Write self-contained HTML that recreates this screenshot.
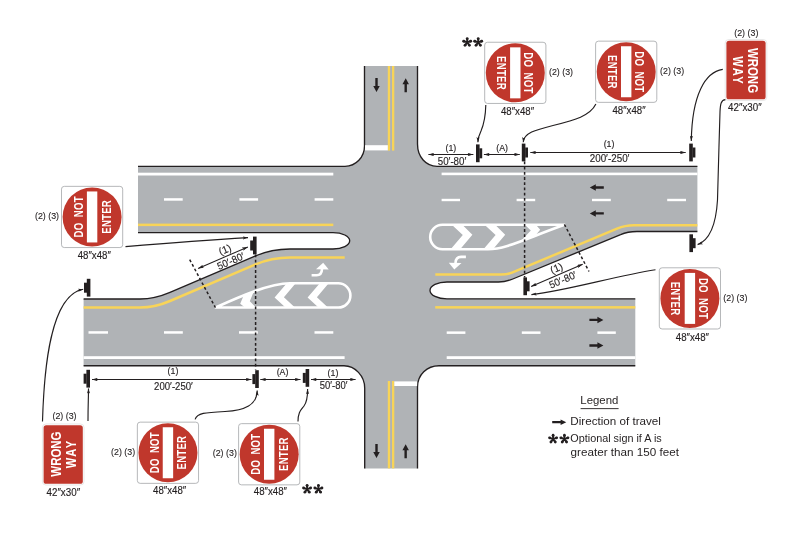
<!DOCTYPE html>
<html><head><meta charset="utf-8"><style>
html,body{margin:0;padding:0;background:#fff;}
svg{display:block;will-change:transform;}
text{font-family:"Liberation Sans",sans-serif;}
</style></head><body>
<svg width="800" height="534" viewBox="0 0 800 534">
<defs>
  <g id="dne">
    <rect x="-30.6" y="-30.6" width="61.2" height="61.2" rx="2.8" fill="#fff" stroke="#a9abae" stroke-width="0.85"/>
    <circle r="29.5" fill="#c0372c"/>
    <rect x="-25.5" y="-5.2" width="51" height="10.4" fill="#fff"/>
    <text transform="scale(0.74,1)" x="0" y="-8.8" font-size="13" font-weight="bold" fill="#fff" text-anchor="middle" textLength="55.4" lengthAdjust="spacing" word-spacing="3">DO NOT</text>
    <text transform="scale(0.74,1)" x="0" y="18.5" font-size="13" font-weight="bold" fill="#fff" text-anchor="middle" textLength="45.3" lengthAdjust="spacing">ENTER</text>
  </g>
  <g id="ww">
    <rect x="-30.5" y="-20.8" width="61" height="41.6" rx="3.5" fill="#fff" stroke="#d8d8d8" stroke-width="0.6"/>
    <rect x="-29.3" y="-19.6" width="58.6" height="39.2" rx="2.6" fill="#c0372c"/>
    <text transform="scale(0.76,1)" x="0.6" y="-1.9" font-size="15.2" font-weight="bold" fill="#fff" text-anchor="middle" textLength="59.5" lengthAdjust="spacing">WRONG</text>
    <text transform="scale(0.76,1)" x="0" y="12.9" font-size="14.6" font-weight="bold" fill="#fff" text-anchor="middle" textLength="36" lengthAdjust="spacing">WAY</text>
  </g>
  <g id="postR" fill="#231f20">
    <rect x="0" y="0" width="3.6" height="17.8"/>
    <rect x="3.4" y="3.9" width="2.8" height="10"/>
  </g>
  <g id="postL" fill="#231f20">
    <rect x="2.8" y="0" width="3.6" height="17.8"/>
    <rect x="0" y="3.9" width="3" height="10"/>
  </g>
  <marker id="ah" viewBox="0 0 10 6" refX="10" refY="3" markerWidth="6" markerHeight="3.5" markerUnits="userSpaceOnUse" orient="auto-start-reverse">
    <path d="M0,0 L10,3 L0,6 L2.2,3 Z" fill="#231f20"/>
  </marker>
  <marker id="ah2" viewBox="0 0 10 6" refX="10" refY="3" markerWidth="5.2" markerHeight="3.6" markerUnits="userSpaceOnUse" orient="auto">
    <path d="M0,0 L10,3 L0,6 L2,3 Z" fill="#231f20"/>
  </marker>
  <path id="arrR" d="M0,-1.2 H8 V-3.25 L14,0 L8,3.25 V1.2 H0 Z" fill="#231f20"/>
  <clipPath id="isR"><path d="M442.4,224.8 H564.4 C520,241 505,249.2 488,249.2 H442.4 A12.2,12.2 0 0 1 442.4,224.8 Z"/></clipPath>
  <clipPath id="isL"><path d="M338.3,283.3 H290 C270,283.3 240,296.5 215.6,307.5 H338.3 A12.1,12.1 0 0 0 338.3,283.3 Z"/></clipPath>
</defs>
<path fill="#b0b3b6" d="M138,166.3 H345 C356,166.3 364.5,157 364.5,146 V66 H417.5 V144 C417.5,157 426,166.3 437,166.3 H697.4 V231.5 H637 Q627.6,231.5 620.6,234.6 L512.8,279 Q505.6,282 498.5,282 H447 A17,8.4 0 0 0 447,298.8 H635.3 V365.7 H439 C427,365.7 417.5,375 417.5,387 V468.4 H364.7 V388 C364.7,376 355,365.7 344,365.7 H83.6 V299 H140 Q154.6,299 170,292.4 L255,256.1 Q271.7,249 290,249 H333 A16.7,8.2 0 0 0 333,232.6 H138 Z"/>
<g fill="none" stroke="#231f20" stroke-width="1.35">
  <path d="M138,166.3 H345 C356,166.3 364.5,157 364.5,146 V66"/>
  <path d="M417.5,66 V144 C417.5,157 426,166.3 437,166.3 H697.4"/>
  <path d="M697.4,231.5 H637 Q627.6,231.5 620.6,234.6 L512.8,279 Q505.6,282 498.5,282 H447 A17,8.4 0 0 0 447,298.8 H635.3"/>
  <path d="M635.3,365.7 H439 C427,365.7 417.5,375 417.5,387 V468.4"/>
  <path d="M364.7,468.4 V388 C364.7,376 355,365.7 344,365.7 H83.6"/>
  <path d="M83.6,299 H140 Q154.6,299 170,292.4 L255,256.1 Q271.7,249 290,249 H333 A16.7,8.2 0 0 0 333,232.6 H138"/>
</g>
<g fill="#f8d458">
  <rect x="387.8" y="66" width="2.3" height="84.6"/>
  <rect x="392" y="66" width="2.3" height="84.6"/>
  <rect x="387.8" y="381" width="2.3" height="87.4"/>
  <rect x="392" y="381" width="2.3" height="87.4"/>
</g>
<rect x="365" y="145.2" width="22.8" height="5.2" fill="#fff"/>
<rect x="394.3" y="381.4" width="22.8" height="4.6" fill="#fff"/>
<rect x="138" y="172.7" width="195.3" height="2.8" fill="#fff"/>
<g fill="#fff">
  <rect x="164" y="198.2" width="18.7" height="2.5"/>
  <rect x="239.4" y="198.2" width="18.7" height="2.5"/>
  <rect x="314.6" y="198.2" width="18.7" height="2.5"/>
</g>
<rect x="138" y="223.6" width="195.3" height="2.5" fill="#f8d458"/>
<path d="M83.6,307.6 H140 Q154.6,307.6 170,301 L255,264.7 Q271.7,257.6 290,257.6 H344.7" fill="none" stroke="#f8d458" stroke-width="2.5"/>
<g fill="#fff">
  <rect x="88.5" y="331.2" width="19.5" height="2.5"/>
  <rect x="164" y="331.2" width="18.8" height="2.5"/>
  <rect x="239" y="331.2" width="18.8" height="2.5"/>
  <rect x="314.5" y="331.2" width="18.8" height="2.5"/>
</g>
<rect x="83.6" y="356.2" width="261" height="2.8" fill="#fff"/>
<rect x="441.6" y="172.6" width="255.8" height="2.6" fill="#fff"/>
<g fill="#fff">
  <rect x="441.6" y="198.8" width="18.4" height="2.4"/>
  <rect x="516.6" y="198.8" width="18.6" height="2.4"/>
  <rect x="592" y="198.8" width="18.8" height="2.4"/>
  <rect x="667.2" y="198.8" width="18.8" height="2.4"/>
</g>
<path d="M697.4,225.2 H634 Q625,225.2 617,228.6 L512,272.7 Q507.4,274.6 501,274.6 H435.3" fill="none" stroke="#f8d458" stroke-width="2.5"/>
<rect x="435.2" y="306.1" width="200.1" height="2.5" fill="#f8d458"/>
<g fill="#fff">
  <rect x="446.7" y="331.4" width="18.7" height="2.5"/>
  <rect x="521.8" y="331.4" width="18.7" height="2.5"/>
  <rect x="597.4" y="331.4" width="18.4" height="2.5"/>
</g>
<rect x="446.7" y="356.2" width="188.6" height="2.8" fill="#fff"/>
<use href="#arrR" transform="translate(603.8,187.5) rotate(180)"/>
<use href="#arrR" transform="translate(603.8,213.4) rotate(180)"/>
<use href="#arrR" transform="translate(589.4,319.9)"/>
<use href="#arrR" transform="translate(589.4,345.5)"/>
<use href="#arrR" transform="translate(376.5,78) rotate(90)"/>
<use href="#arrR" transform="translate(405.7,92.2) rotate(-90)"/>
<use href="#arrR" transform="translate(376.5,444.1) rotate(90)"/>
<use href="#arrR" transform="translate(405.65,458.2) rotate(-90)"/>
<g fill="#fff" clip-path="url(#isR)"><path d="M448.80,222.00 L459.50,222.00 L472.40,234.70 L457.85,252.00 L448.30,252.00 L462.80,235.00 Z"/><path d="M481.60,222.00 L492.30,222.00 L505.20,234.70 L490.65,252.00 L481.10,252.00 L495.60,235.00 Z"/><path d="M522,222 L533.5,222 L540.2,229.8 L530,242 L520,242 L530.8,230.4 Z"/></g>
<g fill="#fff" clip-path="url(#isL)"><path d="M322.60,280.00 L331.40,280.00 L316.90,297.20 L331.70,311.00 L322.30,311.00 L307.60,297.40 Z"/><path d="M289.60,280.00 L298.40,280.00 L283.90,297.20 L298.70,311.00 L289.30,311.00 L274.60,297.40 Z"/><path d="M248.1,285 L256.5,285 L249.8,301.2 L259.6,311 L249.3,311 L240.2,303.7 Z"/></g>
<g fill="none" stroke="#fff" stroke-width="2.6" stroke-linejoin="round">
  <path d="M442.4,224.8 H564.4 C520,241 505,249.2 488,249.2 H442.4 A12.2,12.2 0 0 1 442.4,224.8 Z"/>
  <path d="M338.3,283.3 H290 C270,283.3 240,296.5 215.6,307.5 H338.3 A12.1,12.1 0 0 0 338.3,283.3 Z"/>
</g>
<path d="M311.6,275.3 H316.5 Q321.8,275.3 322,269" fill="none" stroke="#fff" stroke-width="2.6"/><path d="M316,269.2 L323.2,262.8 L328.7,269.4 Z" fill="#fff"/>
<g transform="rotate(180,388.75,266.1)"><path d="M311.6,275.3 H316.5 Q321.8,275.3 322,269" fill="none" stroke="#fff" stroke-width="2.6"/><path d="M316,269.2 L323.2,262.8 L328.7,269.4 Z" fill="#fff"/></g>
<use href="#postR" x="476" y="144.4"/>
<use href="#postR" x="521.8" y="143.6"/>
<use href="#postR" x="689.2" y="143.6"/>
<use href="#postR" x="689.4" y="234.3"/>
<use href="#postR" x="523.4" y="277.4"/>
<use href="#postL" x="250.2" y="236.6"/>
<use href="#postL" x="84" y="278.8"/>
<use href="#postL" x="83.6" y="369.8"/>
<use href="#postL" x="252.4" y="370.2"/>
<use href="#postL" x="302.8" y="369"/>
<g fill="none" stroke="#231f20" stroke-width="1.5" stroke-dasharray="2.8,2.4">
  <path d="M524.6,161.5 V277.4"/>
  <path d="M255.6,254.5 V369.5"/>
  <path d="M564.4,224.4 L589,271.5"/>
  <path d="M189.7,259.6 L215.4,307.6"/>
</g>
<g fill="none" stroke="#231f20" stroke-width="1.05" marker-start="url(#ah)" marker-end="url(#ah)">
  <path d="M428.4,154.5 H473.4"/>
  <path d="M483.9,154.5 H519.8"/>
  <path d="M92,379.5 H251.5"/>
  <path d="M260.3,379.5 H300.5"/>
  <path d="M311,379.5 H355.6"/>
  <path d="M531.1,286.5 L582.7,264.2"/>
  <path d="M198.1,268.5 L247.9,246.9"/>
</g>
<path d="M530.3,152.5 H685.7" fill="none" stroke="#231f20" stroke-width="1.05" marker-start="url(#ah)" marker-end="url(#ah)"/>
<g fill="none" stroke="#231f20" stroke-width="1.15" marker-end="url(#ah2)">
  <path d="M485.8,105 C485.5,118 484,124 481,131 C479,135 478,138 477.9,142.3"/>
  <path d="M595.9,104.1 C590,116 575,120 553,125.5 C535,130 524,133 523.2,142.3"/>
  <path d="M722.8,69.4 C705,72 692,95 691.3,141"/>
  <path d="M725.5,99.6 C721,100 720.3,104 720,112 C719,140 718,190 717.5,200 C716,225 710,240 697.6,244.6"/>
  <path d="M655.5,269.8 C615,276 570,290 531.4,294.6"/>
  <path d="M125.5,246.6 C170,243 210,240 248,237.6"/>
  <path d="M42.5,421.5 C44,370 50,295 83.2,289.3"/>
  <path d="M88,421 C88,405 88.5,398 88.5,388.4"/>
  <path d="M195.1,419.4 C197,413 205,412.5 225,411.5 C245,410.5 257,405 257.2,390.5"/>
  <path d="M298,421.6 C298,412 301,410 304,406 C307,402 307.6,398 307.6,389"/>
</g>
<g font-size="10.3" fill="#231f20" stroke="#231f20" stroke-width="0.15" text-anchor="middle">
<text x="450.85" y="151.2" font-size="8.8">(1)</text>
<text x="452" y="165" textLength="28.5" lengthAdjust="spacingAndGlyphs">50′-80′</text>
<text x="502.1" y="151.2" font-size="8.8">(A)</text>
<text x="609.05" y="147.1" font-size="8.8">(1)</text>
<text x="609.6" y="162.3" textLength="39.7" lengthAdjust="spacingAndGlyphs">200′-250′</text>
<text x="173" y="374.3" font-size="8.8">(1)</text>
<text x="173.5" y="389.5" textLength="38.8" lengthAdjust="spacingAndGlyphs">200′-250′</text>
<text x="282.5" y="374.7" font-size="8.8">(A)</text>
<text x="333" y="376.2" font-size="8.8">(1)</text>
<text x="333.6" y="388.6" textLength="27.7" lengthAdjust="spacingAndGlyphs">50′-80′</text>
<text transform="translate(226.3,252.8) rotate(-23.3)">(1)</text>
<text transform="translate(232.1,264.3) rotate(-23.3)" textLength="28.5" lengthAdjust="spacingAndGlyphs">50′-80′</text>
<text transform="translate(557.8,271.4) rotate(-23.4)">(1)</text>
<text transform="translate(564.2,283.1) rotate(-23.4)" textLength="28.5" lengthAdjust="spacingAndGlyphs">50′-80′</text>
</g>
<use href="#dne" transform="translate(515.3,72.85) rotate(90)"/>
<use href="#dne" transform="translate(626.2,71.75) rotate(90)"/>
<use href="#ww" transform="translate(746,70.05) rotate(90)"/>
<use href="#dne" transform="translate(92.1,216.95) rotate(-90)"/>
<use href="#dne" transform="translate(689.9,298.4) rotate(90)"/>
<use href="#ww" transform="translate(63.2,454.5) rotate(-90)"/>
<use href="#dne" transform="translate(167.95,452.75) rotate(-90)"/>
<use href="#dne" transform="translate(269.2,454.25) rotate(-90)"/>
<g font-size="9.6" fill="#231f20" stroke="#231f20" stroke-width="0.12" text-anchor="middle">
<text x="561" y="75.4" textLength="24.1" lengthAdjust="spacingAndGlyphs">(2) (3)</text>
<text x="672.1" y="74.1" textLength="24.1" lengthAdjust="spacingAndGlyphs">(2) (3)</text>
<text x="746.3" y="36.1" textLength="24.1" lengthAdjust="spacingAndGlyphs">(2) (3)</text>
<text x="47" y="218.7" textLength="24.1" lengthAdjust="spacingAndGlyphs">(2) (3)</text>
<text x="735.4" y="300.5" textLength="24.1" lengthAdjust="spacingAndGlyphs">(2) (3)</text>
<text x="64.5" y="419.1" textLength="24.1" lengthAdjust="spacingAndGlyphs">(2) (3)</text>
<text x="123.1" y="455.2" textLength="24.1" lengthAdjust="spacingAndGlyphs">(2) (3)</text>
<text x="224.8" y="455.8" textLength="24.1" lengthAdjust="spacingAndGlyphs">(2) (3)</text>
</g>
<g font-size="10" fill="#231f20" stroke="#231f20" stroke-width="0.15" text-anchor="middle">
<text x="517.5" y="115" textLength="33.2" lengthAdjust="spacingAndGlyphs">48″x48″</text>
<text x="629" y="114.2" textLength="33.2" lengthAdjust="spacingAndGlyphs">48″x48″</text>
<text x="692.4" y="340.6" textLength="33.2" lengthAdjust="spacingAndGlyphs">48″x48″</text>
<text x="94.3" y="258.6" textLength="33.2" lengthAdjust="spacingAndGlyphs">48″x48″</text>
<text x="169.6" y="493.8" textLength="33.2" lengthAdjust="spacingAndGlyphs">48″x48″</text>
<text x="270.4" y="495.3" textLength="33.2" lengthAdjust="spacingAndGlyphs">48″x48″</text>
<text x="744.9" y="110.7" textLength="33.6" lengthAdjust="spacingAndGlyphs">42″x30″</text>
<text x="63.3" y="496.1" textLength="33.6" lengthAdjust="spacingAndGlyphs">42″x30″</text>
</g>
<g fill="#231f20"><path d="M467.85,42.30 L468.55,38.50 L465.85,38.50 L466.55,42.30 Z M467.40,42.92 L471.23,42.41 L470.40,39.84 L467.00,41.68 Z M466.67,42.68 L468.34,46.17 L470.53,44.58 L467.73,41.92 Z M466.67,41.92 L463.87,44.58 L466.06,46.17 L467.73,42.68 Z M467.40,41.68 L464.00,39.84 L463.17,42.41 L467.00,42.92 Z "/><circle cx="467.20" cy="38.50" r="1.35"/><circle cx="470.81" cy="41.13" r="1.35"/><circle cx="469.43" cy="45.37" r="1.35"/><circle cx="464.97" cy="45.37" r="1.35"/><circle cx="463.59" cy="41.13" r="1.35"/><circle cx="467.2" cy="42.3" r="1.1"/></g>
<g fill="#231f20"><path d="M478.85,42.30 L479.55,38.50 L476.85,38.50 L477.55,42.30 Z M478.40,42.92 L482.23,42.41 L481.40,39.84 L478.00,41.68 Z M477.67,42.68 L479.34,46.17 L481.53,44.58 L478.73,41.92 Z M477.67,41.92 L474.87,44.58 L477.06,46.17 L478.73,42.68 Z M478.40,41.68 L475.00,39.84 L474.17,42.41 L478.00,42.92 Z "/><circle cx="478.20" cy="38.50" r="1.35"/><circle cx="481.81" cy="41.13" r="1.35"/><circle cx="480.43" cy="45.37" r="1.35"/><circle cx="475.97" cy="45.37" r="1.35"/><circle cx="474.59" cy="41.13" r="1.35"/><circle cx="478.2" cy="42.3" r="1.1"/></g>
<g fill="#231f20"><path d="M307.75,489.10 L308.45,485.30 L305.75,485.30 L306.45,489.10 Z M307.30,489.72 L311.13,489.21 L310.30,486.64 L306.90,488.48 Z M306.57,489.48 L308.24,492.97 L310.43,491.38 L307.63,488.72 Z M306.57,488.72 L303.77,491.38 L305.96,492.97 L307.63,489.48 Z M307.30,488.48 L303.90,486.64 L303.07,489.21 L306.90,489.72 Z "/><circle cx="307.10" cy="485.30" r="1.35"/><circle cx="310.71" cy="487.93" r="1.35"/><circle cx="309.33" cy="492.17" r="1.35"/><circle cx="304.87" cy="492.17" r="1.35"/><circle cx="303.49" cy="487.93" r="1.35"/><circle cx="307.1" cy="489.1" r="1.1"/></g>
<g fill="#231f20"><path d="M319.05,489.10 L319.75,485.30 L317.05,485.30 L317.75,489.10 Z M318.60,489.72 L322.43,489.21 L321.60,486.64 L318.20,488.48 Z M317.87,489.48 L319.54,492.97 L321.73,491.38 L318.93,488.72 Z M317.87,488.72 L315.07,491.38 L317.26,492.97 L318.93,489.48 Z M318.60,488.48 L315.20,486.64 L314.37,489.21 L318.20,489.72 Z "/><circle cx="318.40" cy="485.30" r="1.35"/><circle cx="322.01" cy="487.93" r="1.35"/><circle cx="320.63" cy="492.17" r="1.35"/><circle cx="316.17" cy="492.17" r="1.35"/><circle cx="314.79" cy="487.93" r="1.35"/><circle cx="318.4" cy="489.1" r="1.1"/></g>
<g fill="#231f20"><path d="M553.75,439.00 L554.45,435.20 L551.75,435.20 L552.45,439.00 Z M553.30,439.62 L557.13,439.11 L556.30,436.54 L552.90,438.38 Z M552.57,439.38 L554.24,442.87 L556.43,441.28 L553.63,438.62 Z M552.57,438.62 L549.77,441.28 L551.96,442.87 L553.63,439.38 Z M553.30,438.38 L549.90,436.54 L549.07,439.11 L552.90,439.62 Z "/><circle cx="553.10" cy="435.20" r="1.35"/><circle cx="556.71" cy="437.83" r="1.35"/><circle cx="555.33" cy="442.07" r="1.35"/><circle cx="550.87" cy="442.07" r="1.35"/><circle cx="549.49" cy="437.83" r="1.35"/><circle cx="553.1" cy="439" r="1.1"/></g>
<g fill="#231f20"><path d="M565.05,439.00 L565.75,435.20 L563.05,435.20 L563.75,439.00 Z M564.60,439.62 L568.43,439.11 L567.60,436.54 L564.20,438.38 Z M563.87,439.38 L565.54,442.87 L567.73,441.28 L564.93,438.62 Z M563.87,438.62 L561.07,441.28 L563.26,442.87 L564.93,439.38 Z M564.60,438.38 L561.20,436.54 L560.37,439.11 L564.20,439.62 Z "/><circle cx="564.40" cy="435.20" r="1.35"/><circle cx="568.01" cy="437.83" r="1.35"/><circle cx="566.63" cy="442.07" r="1.35"/><circle cx="562.17" cy="442.07" r="1.35"/><circle cx="560.79" cy="437.83" r="1.35"/><circle cx="564.4" cy="439" r="1.1"/></g>
<g fill="#231f20" font-size="11.3">
  <text x="580.3" y="404.4" textLength="38" lengthAdjust="spacingAndGlyphs">Legend</text>
  <rect x="580.6" y="408.2" width="38" height="0.9"/>
  <path d="M552.2,421.1 H560.6 V419.5 L566.3,422.2 L560.6,424.9 V423.3 H552.2 Z"/>
  <text x="570.3" y="425" textLength="90.6" lengthAdjust="spacingAndGlyphs">Direction of travel</text>
  <text x="570.3" y="441.8" textLength="91.4" lengthAdjust="spacingAndGlyphs">Optional sign if A is</text>
  <text x="570.6" y="455.7" textLength="108.4" lengthAdjust="spacingAndGlyphs">greater than 150 feet</text>
</g>
</svg>
</body></html>
